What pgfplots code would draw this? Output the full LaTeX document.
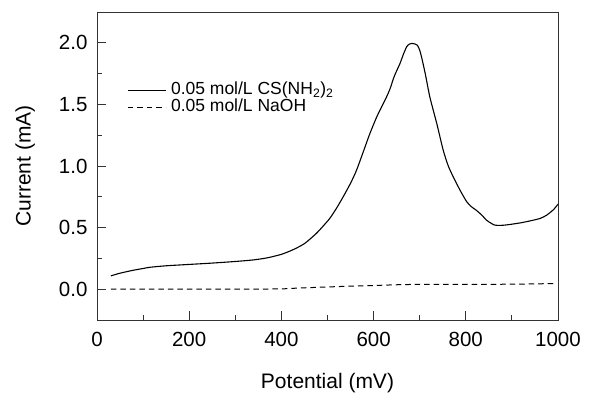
\documentclass[border=0pt]{standalone}
\usepackage{fontspec}
\setmainfont{Liberation Sans}
\usepackage{pgfplots}
\usetikzlibrary{calc}
\pgfplotsset{compat=1.18}
\begin{document}
\begin{tikzpicture}
\begin{axis}[
  name=ax,
  scale only axis,
  width=461pt, height=308pt,
  xmin=0, xmax=1000, ymin=-0.25, ymax=2.25,
  xtick={0,200,400,600,800,1000},
  ytick={0,0.5,1,1.5,2},
  minor tick num=1,
  tick pos=left,
  tick align=inside,
  major tick length=9pt,
  minor tick length=5pt,
  axis line style={black!80, line width=0.9pt},
  every tick/.style={black!80, line width=0.9pt},
  /pgf/number format/assume math mode=true,
  tick label style={font=\fontsize{20.5}{24}\selectfont},
  xticklabel style={/pgf/number format/1000 sep={}, yshift=-9pt},
  yticklabel style={/pgf/number format/.cd, fixed, fixed zerofill, precision=1, /tikz/xshift=-6pt},
  xlabel={Potential (mV)},
  ylabel={Current (mA)},
  label style={font=\fontsize{21}{25}\selectfont},
  xlabel style={at={(axis description cs:0.5,-0.2045)}, anchor=center},
  ylabel style={at={(axis description cs:-0.156,0.5)}, anchor=center},
  legend image code/.code={\draw[#1] (0pt,0pt) -- (38pt,0pt);},
  legend cell align=left,
  legend style={draw=none, fill=none, inner sep=0pt, outer sep=0pt,
    at={(axis description cs:0.066,0.772)}, anchor=north west,
    font=\fontsize{17.5}{20}\selectfont, column sep=3pt,
    nodes={inner sep=1.5pt, text height=11pt, text depth=3pt}},
]
\addplot[black, line width=1.1pt, smooth, tension=0.4] coordinates {
(30,0.108) (50,0.13) (79,0.154) (100,0.168) (115,0.178) (150,0.19)
(195,0.200) (250,0.212) (300,0.225) (340,0.238) (370,0.255) (400,0.283)
(425,0.32) (450,0.37) (475,0.45) (490,0.51) (505,0.575) (520,0.66)
(534,0.75) (550,0.86) (563,0.966) (580,1.14) (592,1.264)
(607,1.40) (620,1.50) (628,1.56) (636,1.63) (645,1.73) (657,1.83)
(665,1.91) (672,1.97) (678,1.99) (683,1.995) (690,1.99) (695,1.98)
(700,1.94) (704,1.885) (712,1.75) (722,1.56) (737,1.345) (751,1.128)
(762,1.00) (773,0.91) (788,0.80) (802,0.71) (812,0.67) (823,0.64)
(835,0.60) (845,0.56) (855,0.535) (863,0.52) (875,0.518) (889,0.522)
(918,0.538) (939,0.554) (961,0.574) (975,0.60) (990,0.645) (1000,0.69)
};
\addlegendentry{0.05 mol/L CS(NH\textsubscript{2})\textsubscript{2}}
\addplot[black, line width=1.0pt, dash pattern=on 5.5pt off 4pt] coordinates {
(30,0) (100,0) (200,0) (300,0) (400,0.002) (440,0.01) (500,0.018)
(550,0.025) (600,0.03) (650,0.036) (700,0.04) (750,0.04) (800,0.04)
(850,0.039) (900,0.041) (950,0.043) (990,0.046)
};
\addlegendentry{0.05 mol/L NaOH}
\end{axis}
\pgfresetboundingbox
\path ($(ax.south west)+(-97pt,-75pt)$) rectangle ($(ax.north east)+(36pt,12pt)$);
\end{tikzpicture}
\end{document}
